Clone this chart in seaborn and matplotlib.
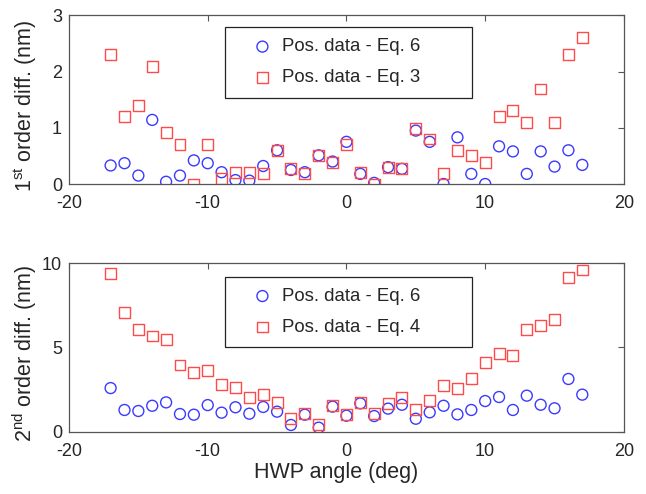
import numpy as np
import pandas as pd
import matplotlib
matplotlib.use("Agg")
import matplotlib.pyplot as plt
import seaborn as sns

angles = list(range(-17, 18))

first_eq6 = [0.33, 0.37, 0.15, 1.14, 0.04, 0.15, 0.42, 0.37, 0.21, 0.07, 0.06, 0.32,
             0.60, 0.25, 0.21, 0.51, 0.40, 0.75, 0.18, 0.02, 0.30, 0.27, 0.95, 0.75,
             0.00, 0.83, 0.18, 0.00, 0.67, 0.58, 0.18, 0.58, 0.31, 0.60, 0.34]
first_eq3 = [2.30, 1.20, 1.39, 2.09, 0.91, 0.70, 0.00, 0.70, 0.09, 0.20, 0.20, 0.18,
             0.59, 0.28, 0.18, 0.51, 0.39, 0.71, 0.20, 0.00, 0.30, 0.28, 0.99, 0.80,
             0.18, 0.59, 0.50, 0.38, 1.20, 1.31, 1.10, 1.69, 1.10, 2.30, 2.61]
second_eq6 = [2.59, 1.29, 1.23, 1.54, 1.74, 1.05, 1.01, 1.58, 1.13, 1.45, 1.07, 1.47,
              1.19, 0.40, 1.01, 0.24, 1.49, 0.95, 1.68, 0.93, 1.37, 1.60, 0.77, 1.15,
              1.54, 1.03, 1.29, 1.82, 2.06, 1.29, 2.14, 1.60, 1.39, 3.13, 2.20]
second_eq4 = [9.37, 7.05, 6.08, 5.68, 5.47, 3.96, 3.50, 3.66, 2.83, 2.63, 2.02, 2.22,
              1.74, 0.77, 1.07, 0.44, 1.58, 1.01, 1.76, 1.09, 1.66, 2.04, 1.33, 1.86,
              2.77, 2.55, 3.15, 4.12, 4.63, 4.55, 6.08, 6.28, 6.67, 9.13, 9.60]

x_ticks = [-20, -10, 0, 10, 20]
top_yticks = [0, 1, 2, 3]
bot_yticks = [0, 5, 10]

sns.set_style("white")
plt.rcParams['font.family'] = ['Liberation Sans', 'DejaVu Sans']
plt.rcParams['mathtext.default'] = 'regular'
plt.rcParams['axes.unicode_minus'] = False

BLUE = "#3a3aff"
RED = "#ff4a4a"
SPINE = "#555555"
TICK_FS = 13
LEG_FS = 13.4
LAB_FS = 15.5

fig = plt.figure(figsize=(6.46, 4.94), dpi=100)
ax1 = fig.add_axes([0.1068, 0.6275, 0.859, 0.3415])
ax2 = fig.add_axes([0.1068, 0.1261, 0.859, 0.341])

def panel(ax, yA, yB, labA, labB, ylim, yticks, ylabel, legtop, ylab_y):
    df = pd.DataFrame({"x": angles, "a": yA, "b": yB})
    sns.scatterplot(data=df, x="x", y="a", ax=ax, marker="o", s=62,
                    facecolors="none", edgecolors=BLUE, linewidths=1.0,
                    label=labA, zorder=3)
    sns.scatterplot(data=df, x="x", y="b", ax=ax, marker="s", s=62,
                    facecolors="none", edgecolors=RED, linewidths=1.0,
                    label=labB, zorder=3)
    ax.set_xlim(-20, 20)
    ax.set_ylim(*ylim)
    ax.set_xticks(x_ticks)
    ax.set_yticks(yticks)
    ax.tick_params(direction="in", top=True, right=True, length=4,
                   width=0.8, color=SPINE, labelsize=TICK_FS)
    ax.tick_params(axis="x", pad=8)
    ax.tick_params(axis="y", pad=5)
    for s in ax.spines.values():
        s.set_color(SPINE)
        s.set_linewidth(0.9)
    ax.set_ylabel(ylabel, fontsize=LAB_FS)
    ax.yaxis.set_label_coords(-0.079, ylab_y)
    ax.yaxis.label.set_va("center")
    leg = ax.legend(loc="upper left", bbox_to_anchor=(0.282, legtop - 0.4, 0.445, 0.4),
                    mode="expand", borderaxespad=0, fontsize=LEG_FS, frameon=True,
                    fancybox=False, edgecolor="#222222", framealpha=1,
                    handletextpad=-0.34, borderpad=0.6, labelspacing=0.75,
                    handlelength=2.77)
    leg.get_frame().set_linewidth(0.9)

panel(ax1, first_eq6, first_eq3, "Pos. data - Eq. 6", "Pos. data - Eq. 3",
      (0, 3), top_yticks, r"1$^{st}$ order diff. (nm)", 0.929, 0.465)
ax1.set_xlabel("")
panel(ax2, second_eq6, second_eq4, "Pos. data - Eq. 6", "Pos. data - Eq. 4",
      (0, 10), bot_yticks, r"2$^{nd}$ order diff. (nm)", 0.920, 0.467)
ax2.set_xlabel("HWP angle (deg)", fontsize=LAB_FS)
ax2.xaxis.set_label_coords(0.482, -0.245)
ax2.xaxis.label.set_va("center")

fig.savefig("out.png", dpi=100)
